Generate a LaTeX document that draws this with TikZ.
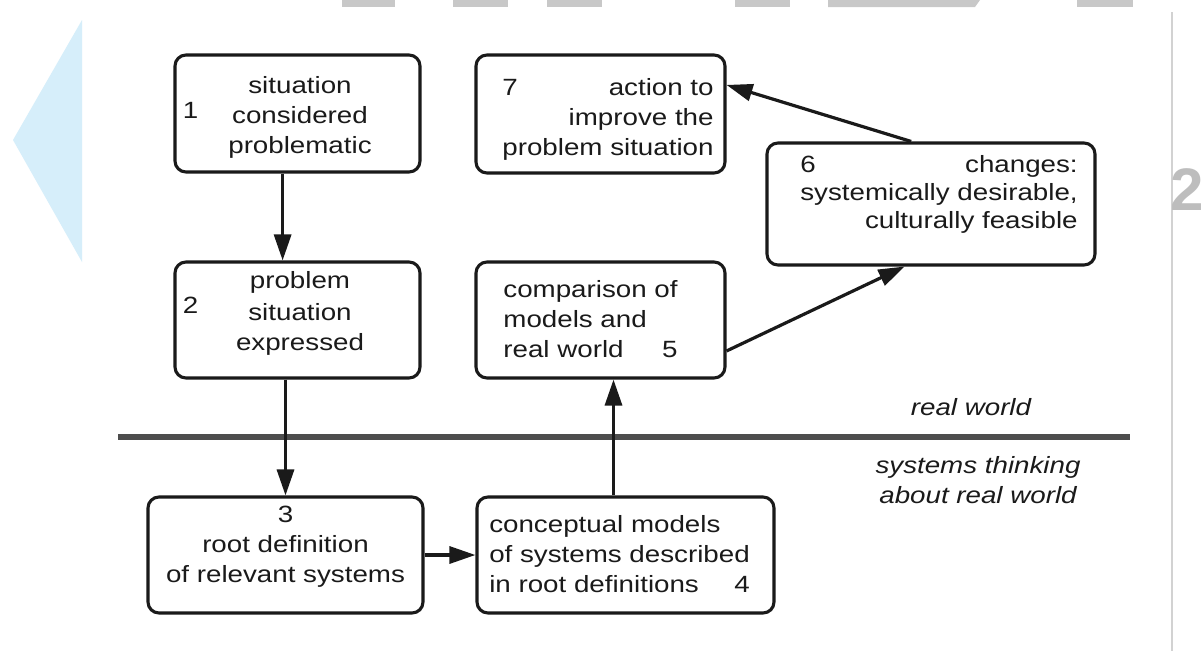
\documentclass[tikz,border=0pt]{standalone}
\usepackage{fontspec}
\setmainfont{Liberation Sans}[FakeStretch=1.18]
\newfontfamily\wmfont{Liberation Sans}
\usetikzlibrary{arrows.meta,calc}
\definecolor{ink}{HTML}{1A1A1A}
\definecolor{divider}{HTML}{4D4D4D}
\definecolor{kite}{HTML}{D6EEFA}
\definecolor{wm}{HTML}{C8C8C8}
\definecolor{wmtwo}{HTML}{BDBDBD}
\definecolor{vline}{HTML}{D2D2D2}
\begin{document}
\begin{tikzpicture}[x=1pt,y=-1pt,
  box/.style={draw=ink, line width=3.1pt, rounded corners=11pt, inner sep=0pt,
    text=ink, font=\fontsize{23.5}{30}\selectfont, text height=0pt},
  arr/.style={draw=ink, line width=3.2pt, -{Triangle[length=26pt,width=17pt]}},
  lab/.style={inner sep=0pt, text=ink, font=\itshape\fontsize{23.5}{30}\selectfont},
]
\useasboundingbox (0,0) rectangle (1204,651);
\fill[white] (0,0) rectangle (1204,651);

% background decorations
\fill[kite] (82,20) -- (13,140) -- (82,262) -- cycle;
\fill[wm] (342,0) rectangle (395,7);
\fill[wm] (453,0) rectangle (508,7);
\fill[wm] (547,0) rectangle (602,7);
\fill[wm] (735,0) rectangle (790,7);
\fill[wm] (828,0) -- (980,0) -- (975,7) -- (828,7) -- cycle;
\fill[wm] (1077,0) rectangle (1133,7);
\draw[vline, line width=1.5pt] (1172,12) -- (1172,651);
\node[anchor=base west, inner sep=0pt, text=wmtwo, font=\wmfont\bfseries\fontsize{60}{60}\selectfont] (wmtwo) at (1170,210) {2};

% boxes
\node[box, minimum width=245pt, minimum height=117pt, text depth=41pt] (b1) at (297.5,113.5)
  {\hspace*{5pt}\begin{tabular}[t]{@{}c@{}}situation\\\llap{\raisebox{5pt}{1}\hspace{34pt}}considered\\problematic\end{tabular}};
\node[box, minimum width=245pt, minimum height=116pt, text depth=64pt] (b2) at (297.5,320)
  {\hspace*{5pt}\begin{tabular}[t]{@{}c@{}}problem\\\llap{\raisebox{7pt}{2}\hspace{50pt}}situation\\expressed\end{tabular}};
\node[box, minimum width=275pt, minimum height=116pt, text depth=66pt] (b3) at (285.5,555)
  {\begin{tabular}[t]{@{}c@{}}3\\root definition\\of relevant systems\end{tabular}};
\node[box, minimum width=297pt, minimum height=116pt, text depth=46pt] (b4) at (625.5,555)
  {\hspace*{-12pt}\begin{tabular}[t]{@{}l@{}}conceptual models\\of systems described\\in root definitions\hfill 4\end{tabular}};
\node[box, minimum width=249pt, minimum height=116pt, text depth=46pt] (b5) at (600.5,320)
  {\hspace*{-20pt}\begin{tabular}[t]{@{}l@{}}comparison of\\models and\\real world\hfill 5\end{tabular}};
\node[box, minimum width=328pt, minimum height=122pt, text depth=64pt,
  font=\fontsize{23.5}{28}\selectfont] (b6) at (931,204)
  {\hspace*{16pt}\begin{tabular}[t]{@{}r@{}}6\hfill changes:\\systemically desirable,\\culturally feasible\end{tabular}};
\node[box, minimum width=249pt, minimum height=118pt, text depth=38pt] (b7) at (600.5,114)
  {\hspace*{15pt}\begin{tabular}[t]{@{}r@{}}7\hfill action to\\improve the\\problem situation\end{tabular}};

% divider and region labels
\coordinate (dL) at (118,437);
\coordinate (dR) at (1130,437);
\draw[divider, line width=5.5pt] (dL) -- (dR);
\node[lab, anchor=base] (rw) at (971,415) {real world};
\node[lab, anchor=base] (st) at (978,473)
  {\begin{tabular}[t]{@{}c@{}}systems thinking\\about real world\end{tabular}};

% connectors
\coordinate (p12) at ($(b1.south west)!0.44!(b1.south east)$);
\draw[arr] (p12) -- (p12 |- b2.north);
\draw[arr] (b2.south -| b3.north) -- (b3.north);
\draw[arr] (b3.east) -- (b4.west);
\coordinate (p45) at ($(b4.north west)!0.46!(b4.north east)$);
\draw[arr] (p45) -- (p45 |- b5.south);
\draw[arr] ($(b5.north east)!0.76!(b5.south east)$) -- ($(b6.south west)!0.42!(b6.south east)$);
\draw[arr] ($(b6.north west)!0.44!(b6.north east)$) -- ($(b7.north east)!0.26!(b7.south east)$);
\end{tikzpicture}
\end{document}
